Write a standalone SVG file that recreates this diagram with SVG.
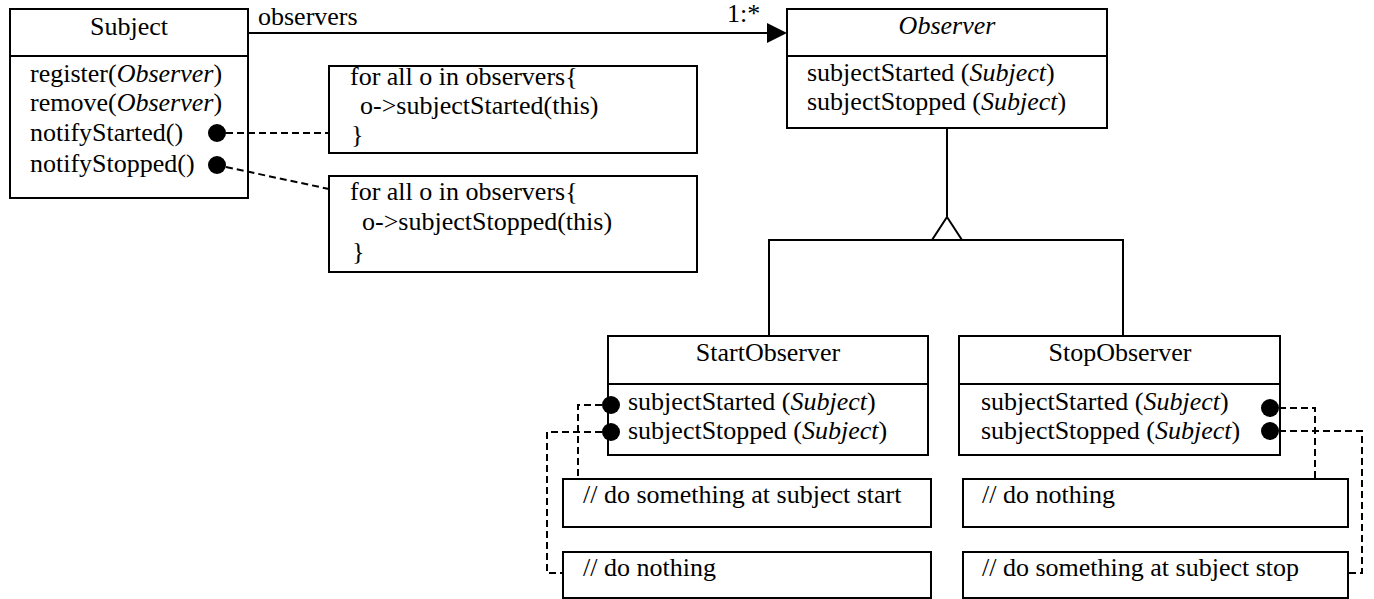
<svg xmlns="http://www.w3.org/2000/svg" width="1374" height="599" viewBox="0 0 1374 599">
<style>
.box{fill:#fff;stroke:#000;stroke-width:2}
.ln{fill:none;stroke:#000;stroke-width:2}
.dash{fill:none;stroke:#000;stroke-width:2;stroke-dasharray:7,4}
.dot{fill:#000}
text{font-family:"Liberation Serif","Times New Roman",serif;font-size:26px;fill:#000}
.c{text-anchor:middle}
.i{font-style:italic}
</style>
<rect width="1374" height="599" fill="#fff"/>
<g id="subject">
<rect class="box" x="10" y="9" width="238" height="189"/>
<line class="ln" x1="10" y1="56" x2="248" y2="56"/>
<text class="c" x="129" y="35">Subject</text>
<text x="30" y="82">register(<tspan class="i">Observer</tspan>)</text>
<text x="30" y="111">remove(<tspan class="i">Observer</tspan>)</text>
<text x="30" y="141">notifyStarted()</text>
<text x="30" y="172">notifyStopped()</text>
<circle class="dot" cx="217" cy="133" r="9"/>
<circle class="dot" cx="217" cy="165" r="9"/>
</g>
<g id="note-started">
<rect class="box" x="329" y="66" width="368" height="87"/>
<text x="350" y="85">for all o in observers{</text>
<text x="360" y="114">o-&gt;subjectStarted(this)</text>
<text x="351" y="143">}</text>
</g>
<g id="note-stopped">
<rect class="box" x="329" y="176" width="368" height="96"/>
<text x="350" y="200">for all o in observers{</text>
<text x="362" y="230">o-&gt;subjectStopped(this)</text>
<text x="352" y="260">}</text>
</g>
<g id="observer">
<rect class="box" x="787" y="9" width="320" height="119"/>
<line class="ln" x1="787" y1="56" x2="1107" y2="56"/>
<text class="c i" x="947" y="34">Observer</text>
<text x="807" y="81">subjectStarted (<tspan class="i">Subject</tspan>)</text>
<text x="807" y="110">subjectStopped (<tspan class="i">Subject</tspan>)</text>
</g>
<g id="start-observer">
<rect class="box" x="608" y="336" width="320" height="119"/>
<line class="ln" x1="608" y1="384" x2="928" y2="384"/>
<text class="c" x="768" y="361">StartObserver</text>
<text x="628" y="410">subjectStarted (<tspan class="i">Subject</tspan>)</text>
<text x="628" y="439">subjectStopped (<tspan class="i">Subject</tspan>)</text>
<circle class="dot" cx="611" cy="405" r="9"/>
<circle class="dot" cx="611" cy="432" r="9"/>
</g>
<g id="stop-observer">
<rect class="box" x="959" y="336" width="321" height="119"/>
<line class="ln" x1="959" y1="384" x2="1280" y2="384"/>
<text class="c" x="1120" y="361">StopObserver</text>
<text x="981" y="410">subjectStarted (<tspan class="i">Subject</tspan>)</text>
<text x="981" y="439">subjectStopped (<tspan class="i">Subject</tspan>)</text>
<circle class="dot" cx="1270" cy="408" r="9"/>
<circle class="dot" cx="1270" cy="431" r="9"/>
</g>
<g id="start-started-note">
<rect class="box" x="563" y="479" width="368" height="48"/>
<text x="583" y="503">// do something at subject start</text>
</g>
<g id="start-stopped-note">
<rect class="box" x="563" y="552" width="368" height="46"/>
<text x="583" y="576">// do nothing</text>
</g>
<g id="stop-started-note">
<rect class="box" x="963" y="479" width="385" height="48"/>
<text x="982" y="503">// do nothing</text>
</g>
<g id="stop-stopped-note">
<rect class="box" x="963" y="552" width="385" height="46"/>
<text x="982" y="576">// do something at subject stop</text>
</g>
<g id="connectors">
<line class="ln" x1="248" y1="33" x2="768" y2="33"/>
<polygon points="767,23 787,33 767,43" fill="#000"/>
<text x="258" y="25">observers</text>
<text x="727" y="22">1:*</text>
<line class="ln" x1="947" y1="128" x2="947" y2="217"/>
<polyline class="ln" points="769,336 769,240 1123,240 1123,336"/>
<polygon class="box" points="947,217 932,240 962,240"/>
<line class="dash" x1="226" y1="133" x2="329" y2="133"/>
<line class="dash" x1="226" y1="167" x2="329" y2="189"/>
<polyline class="dash" points="602,405 578,405 578,479"/>
<polyline class="dash" points="602,432 547,432 547,573 563,573"/>
<polyline class="dash" points="1279,408 1315,408 1315,479"/>
<polyline class="dash" points="1279,431 1362,431 1362,573 1348,573"/>
</g>
</svg>
